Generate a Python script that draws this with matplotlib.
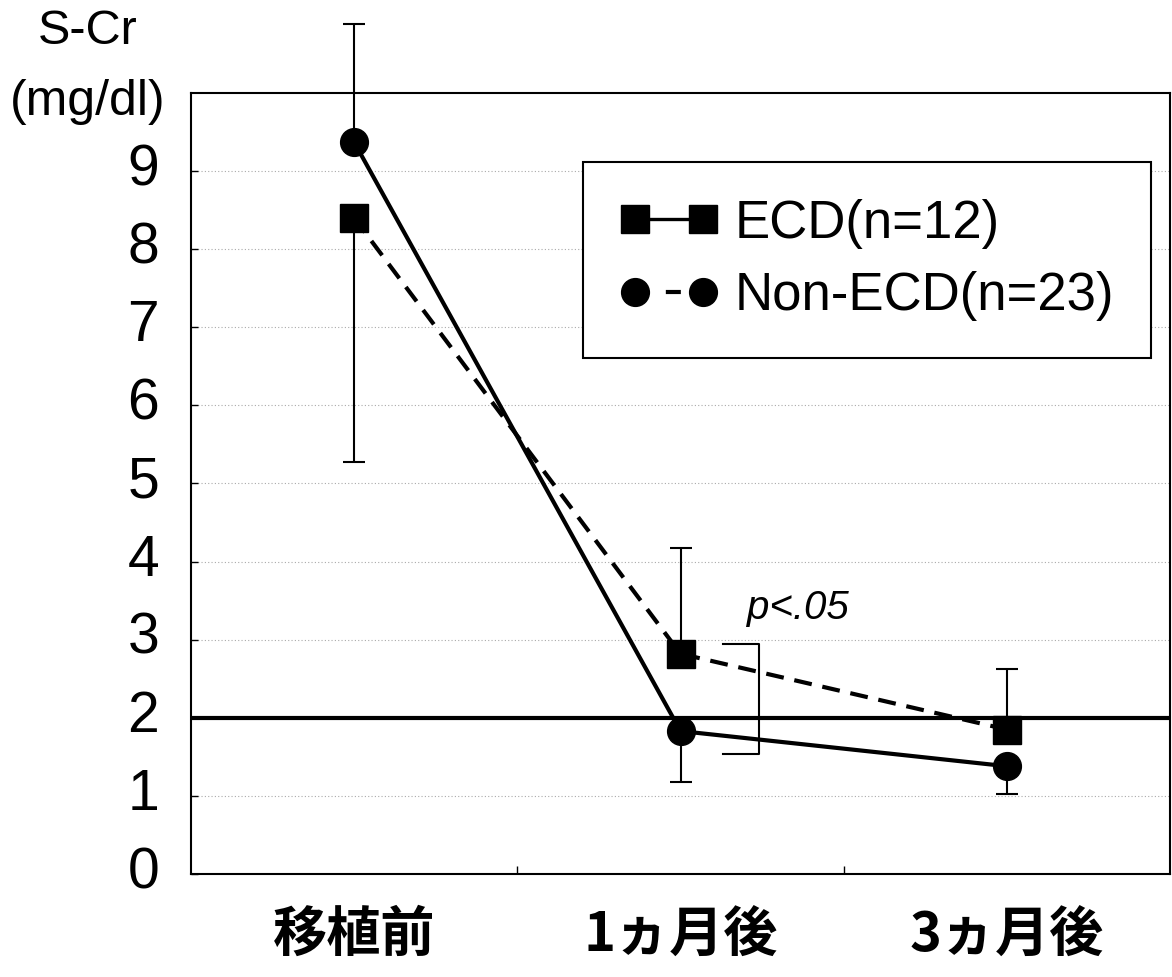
import numpy as np
import matplotlib
matplotlib.use('Agg')
import matplotlib.pyplot as plt
import matplotlib.transforms as mtransforms
from matplotlib.lines import Line2D

plt.rcParams['font.family'] = ['Liberation Sans', 'Noto Sans CJK JP', 'DejaVu Sans']

# data
periods = ['移植前', '1ヵ月後', '3ヵ月後']
ecd_mean = [8.40, 2.82, 1.85]
ecd_err_low = [3.12, 0.0, 0.0]
ecd_err_high = [0.0, 1.36, 0.78]
non_mean = [9.37, 1.83, 1.38]
non_err_low = [0.0, 0.65, 0.35]
non_err_high = [1.51, 0.0, 0.0]
ref_level = 2.0
yticks = list(range(0, 10))
legend_labels = ['ECD(n=12)', 'Non-ECD(n=23)']

x = np.arange(len(periods))

fig = plt.figure(figsize=(11.72, 9.77), dpi=100)
ax = fig.add_axes([191 / 1172, 103 / 977, 979 / 1172, 781 / 977])

# error bars (one side each)
eb1 = ax.errorbar(x, ecd_mean, yerr=[ecd_err_low, ecd_err_high], fmt='none',
                  ecolor='k', elinewidth=1.5, capsize=8, capthick=1.5, zorder=2)
eb2 = ax.errorbar(x, non_mean, yerr=[non_err_low, non_err_high], fmt='none',
                  ecolor='k', elinewidth=1.5, capsize=8, capthick=1.5, zorder=2)
for eb in (eb1, eb2):
    for art in eb.get_children():
        art.set_clip_on(False)

ax.axhline(ref_level, color='k', lw=3, zorder=3)

ax.plot(x, ecd_mean, color='k', lw=3, dashes=(4.3, 2.6), marker='s', ms=20, zorder=4)
ax.plot(x, non_mean, color='k', lw=3, marker='o', ms=20, zorder=4)

# significance bracket at 1 month
bx = [1.13, 1.24]
btop = ecd_mean[1] + 0.13
bbot = non_mean[1] - 0.29
ax.plot([bx[0], bx[1], bx[1], bx[0]], [btop, btop, bbot, bbot], color='k', lw=1.5, zorder=3)
ax.text(1.205, 3.41, 'p<.05', style='italic', fontsize=29, ha='left', va='center')

ax.set_xlim(-0.5, 2.5)
ax.set_ylim(0, 10)
ax.set_yticks(yticks)
ax.yaxis.grid(True, linestyle=(0, (1, 2)), color='#aaaaaa', lw=0.8)
ax.set_axisbelow(True)

ax.set_xticks(x)
ax.set_xticklabels(periods, family=['Noto Sans CJK JP'], fontweight='bold', fontsize=39)
ax.set_xticks([0.5, 1.5], minor=True)
ax.tick_params(axis='x', which='major', length=0, pad=24)
ax.tick_params(axis='x', which='minor', direction='in', length=6, width=1)
ax.tick_params(axis='y', direction='in', length=5, width=1, labelsize=41, pad=23)

# y labels sit a little above their gridlines in the original
shift = mtransforms.ScaledTranslation(0, 5 / 72, fig.dpi_scale_trans)
for lab in ax.get_yticklabels():
    lab.set_transform(lab.get_transform() + shift)

for sp in ax.spines.values():
    sp.set_linewidth(1.5)

handles = [Line2D([], [], color='k', lw=2.4, marker='s', ms=20),
           Line2D([], [], color='k', lw=3, ls=(2.6, (3.6, 6.4)), marker='o', ms=20)]
leg = ax.legend(handles, legend_labels, loc='upper left', bbox_to_anchor=(0.40, 0.912),
                borderaxespad=0, fontsize=38, handlelength=1.88, handletextpad=0.3,
                labelspacing=0.43, borderpad=0.7, numpoints=2, fancybox=False,
                edgecolor='k', framealpha=1)
leg.get_frame().set_linewidth(1.5)

fig.text(88 / 1172, 1 - 32 / 977, 'S-Cr', ha='center', va='center', fontsize=35)
fig.text(88 / 1172, 1 - 102 / 977, '(mg/dl)', ha='center', va='center', fontsize=36)

fig.savefig('out.png', dpi=100)
